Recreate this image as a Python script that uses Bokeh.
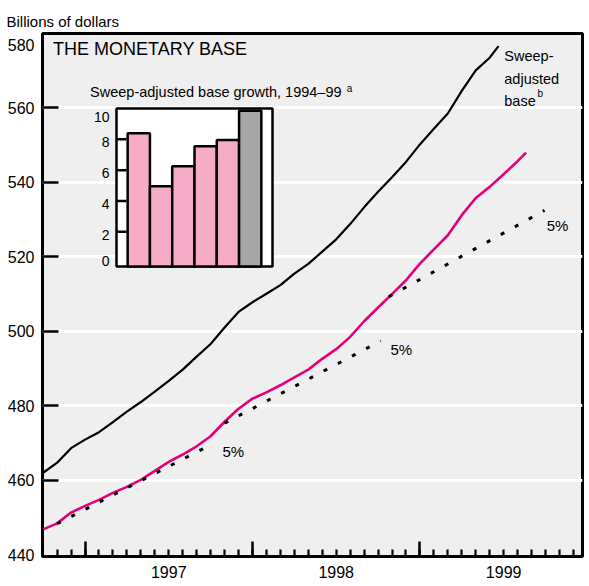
import pandas as pd
from bokeh.plotting import figure
from bokeh.models import (ColumnDataSource, Range1d, LinearAxis, FixedTicker,
                          Grid, Label)
from bokeh.core.properties import value
from bokeh.embed import file_html
from bokeh.resources import INLINE

# ---------------------------------------------------------------- data
# Sweep-adjusted monetary base, billions of dollars (monthly, last point partial)
sweep_dates = [d.strftime("%Y-%m-%d") for d in
               pd.date_range("1996-10-01", "1999-06-01", freq="MS")] + ["1999-06-20"]
sweep_values = [462.0, 464.7, 468.6,
                470.9, 472.9, 475.6, 478.4, 481.0, 483.8, 486.7, 489.7, 493.2, 496.6, 501.0, 505.2,
                507.8, 510.1, 512.4, 515.5, 518.1, 521.4, 524.7, 528.8, 533.3, 537.5, 541.4, 545.5,
                550.2, 554.4, 558.5, 564.6, 570.1, 573.5,
                576.6]

# Monetary base, billions of dollars
base_dates = [d.strftime("%Y-%m-%d") for d in
              pd.date_range("1996-10-01", "1999-08-01", freq="MS")] + ["1999-08-20"]
base_values = [446.8, 448.4, 451.3,
               453.1, 454.7, 456.6, 458.2, 460.1, 462.5, 464.9, 466.9, 469.1, 471.8, 475.7, 479.2,
               481.9, 483.6, 485.5, 487.6, 489.7, 492.6, 495.2, 498.5, 502.7, 506.4, 510.0, 513.7,
               518.2, 522.0, 525.8, 531.2, 535.8, 538.8, 542.2, 545.7,
               548.0]

# 5% growth paths (start, end)
trend_dates = [["1996-11-01", "1997-10-08"],
               ["1997-11-01", "1998-10-07"],
               ["1998-10-25", "1999-09-29"]]
trend_values = [[448.3, 469.9],
                [475.3, 497.4],
                [509.3, 532.5]]
trend_label = "5%"

# Inset: sweep-adjusted base growth, percent
growth_years = [1994, 1995, 1996, 1997, 1998, 1999]
growth_values = [8.4, 4.95, 6.25, 7.55, 7.95, 9.85]
growth_colors = ["#f6abc7"] * 5 + ["#a6a6a6"]
inset_ticks = [0, 2, 4, 6, 8, 10]

year_labels = ["1997", "1998", "1999"]
y_ticks = [440, 460, 480, 500, 520, 540, 560, 580]

# ---------------------------------------------------------------- helpers
def decimal_year(d):
    t = pd.Timestamp(d)
    return t.year + (t.month - 1) / 12 + (t.day - 1) / (12 * t.days_in_month)

FONT = "Liberation Sans"

# page and plotting-frame geometry (pixels)
W, H = 589, 586
FL, FR, FT, FB = 42, 582, 33, 556
X0, X1 = 1996.746, 1999.971
Y0, Y1 = 439.5, 580.0
y_per_px = (Y1 - Y0) / (FB - FT)

p = figure(width=W, height=H, x_range=Range1d(X0, X1), y_range=Range1d(Y0, Y1),
           x_axis_type=None, y_axis_type=None,
           toolbar_location=None, output_backend="svg",
           min_border_left=FL, min_border_right=W - FR,
           min_border_top=FT, min_border_bottom=H - FB,
           title="Billions of dollars")
p.background_fill_color = "#efefef"
p.border_fill_color = "white"
p.outline_line_color = "black"
p.outline_line_width = 3

p.title.align = "left"
p.title.offset = -36
p.title.standoff = 8
p.title.text_font = FONT
p.title.text_font_size = "15px"
p.title.text_font_style = "normal"
p.title.text_color = "black"

# horizontal white rules
p.add_layout(Grid(dimension=1, ticker=FixedTicker(ticks=y_ticks[1:-1]),
                  grid_line_color="white", grid_line_width=3))

# ---------------------------------------------------------------- axes
# tick marks only (labels come from the companion axes)
hidden_labels = dict(major_label_text_font_size="0px", major_label_text_color=None,
                     major_label_standoff=0, axis_line_color=None)

ytick_axis = LinearAxis(ticker=FixedTicker(ticks=y_ticks[1:-1], minor_ticks=[]),
                        major_tick_in=16, major_tick_out=0,
                        major_tick_line_width=2.5, **hidden_labels)
p.add_layout(ytick_axis, "left")

# top label sits just inside the frame
y_label_pos = y_ticks[:-1] + [y_ticks[-1] - 11 * y_per_px]
ylabel_axis = LinearAxis(ticker=FixedTicker(ticks=y_label_pos, minor_ticks=[]),
                         major_tick_in=0, major_tick_out=0, axis_line_color=None,
                         major_label_overrides={pos: str(t) for pos, t in zip(y_label_pos, y_ticks)},
                         major_label_standoff=8,
                         major_label_text_font=FONT, major_label_text_font_size="16px",
                         major_label_text_color="black")
p.add_layout(ylabel_axis, "left")

month_ticks = [decimal_year(d) for d in pd.date_range("1996-11-01", "1999-12-01", freq="MS")]
xtick_axis = LinearAxis(ticker=FixedTicker(ticks=[int(y) for y in year_labels], minor_ticks=month_ticks),
                        major_tick_in=15, major_tick_out=0, minor_tick_in=7, minor_tick_out=0,
                        major_tick_line_width=2.5, minor_tick_line_width=2.2,
                        **hidden_labels)
p.add_layout(xtick_axis, "below")

mid_year = [int(y) + 0.5 for y in year_labels]
xlabel_axis = LinearAxis(ticker=FixedTicker(ticks=mid_year, minor_ticks=[]),
                         major_tick_in=0, major_tick_out=0, axis_line_color=None,
                         major_label_overrides={m: y for m, y in zip(mid_year, year_labels)},
                         major_label_standoff=9,
                         major_label_text_font=FONT, major_label_text_font_size="16px",
                         major_label_text_color="black")
p.add_layout(xlabel_axis, "below")

# ---------------------------------------------------------------- series
p.line([decimal_year(d) for d in base_dates], base_values,
       line_color="#e4007c", line_width=2.6, line_join="round")
p.multi_line([[decimal_year(d) for d in seg] for seg in trend_dates], trend_values,
             line_color="black", line_width=3, line_dash="4 12")
p.line([decimal_year(d) for d in sweep_dates], sweep_values,
       line_color="black", line_width=2.2, line_join="round")

text_style = dict(text_font=FONT, text_font_size="14.5px", text_color="black",
                  text_baseline="middle")
sup_style = dict(text_font=FONT, text_font_size="10px", text_color="black",
                 text_baseline="middle", text_align="left")

for x, y in [(1997.885, 467.8), (1998.889, 495.2), (1999.822, 528.5)]:
    p.add_layout(Label(x=x, y=y, text=trend_label, text_align="center",
                       text_font=FONT, text_font_size="15px", text_color="black",
                       text_baseline="middle"))

for y, line in [(573.9, "Sweep-"), (567.8, "adjusted"), (561.8, "base")]:
    p.add_layout(Label(x=1999.504, y=y, text=line, text_align="left", **text_style))
p.add_layout(Label(x=1999.702, y=564.0, text="b", **sup_style))

p.add_layout(Label(x=1996.809, y=575.8, text="THE MONETARY BASE", text_align="left",
                   text_font=FONT, text_font_size="18px", text_baseline="middle",
                   text_color="black"))

# ---------------------------------------------------------------- inset
IX0, IX1 = 1993.0, 2000.0          # inset category span
IY0, IY1 = -0.25, 10.0             # inset value span
IL, IR, IT, IB = 116, 272, 108, 266  # inset box (pixels)
ix_per_px = (IX1 - IX0) / (IR - IL)
iy_per_px = (IY1 - IY0) / (IB - IT)
p.extra_x_ranges = {"inset_x": Range1d(IX0 - (IL - FL) * ix_per_px, IX1 + (FR - IR) * ix_per_px)}
p.extra_y_ranges = {"inset_y": Range1d(IY0 - (FB - IB) * iy_per_px, IY1 + (IT - FT) * iy_per_px)}
inset = dict(x_range_name="inset_x", y_range_name="inset_y")

p.quad(left=[IX0], right=[IX1], bottom=[IY0], top=[IY1],
       fill_color="white", line_color="black", line_width=2.5, **inset)
p.vbar(x=growth_years, top=growth_values, bottom=IY0, width=1.0,
       fill_color=growth_colors, line_color="black", line_width=2.5, **inset)
p.ray(x=IX0, y=inset_ticks[1:-1], length=10, length_units="screen", angle=0,
      line_color="black", line_width=2.5, **inset)

inset_labels = ColumnDataSource(dict(
    x=[IX0] * len(inset_ticks), y=inset_ticks,
    text=[str(t) for t in inset_ticks],
    dy=[-2, 3, 3, 3, 3, 8]))
p.text(x="x", y="y", text="text", y_offset="dy", x_offset=-7, source=inset_labels,
       text_font=value(FONT), text_font_size="14px", text_align="right",
       text_baseline="middle", text_color="black", **inset)

p.add_layout(Label(x=1997.030, y=564.35, text="Sweep-adjusted base growth, 1994\u201399",
                   text_align="left", **text_style))
p.add_layout(Label(x=1998.563, y=565.2, text="a", **sup_style))

open("out.html", "w").write(file_html(p, INLINE))
